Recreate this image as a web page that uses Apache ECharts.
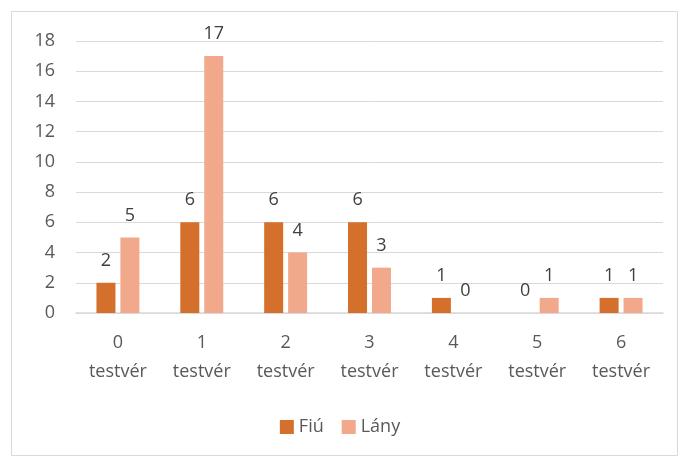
<!DOCTYPE html>
<html>
<head>
<meta charset="utf-8">
<script src="https://cdn.jsdelivr.net/npm/echarts@6/dist/echarts.min.js"></script>
<style>
  html, body { margin: 0; padding: 0; background: #fff; }
  #chart { width: 680px; height: 457px; }
</style>
</head>
<body>
<div id="chart"></div>
<script>
// adatok
const categories = ["0\ntestvér", "1\ntestvér", "2\ntestvér", "3\ntestvér", "4\ntestvér", "5\ntestvér", "6\ntestvér"];
const fiuValues = [2, 6, 6, 6, 1, 0, 1];
const lanyValues = [5, 17, 4, 3, 0, 1, 1];
const yTicks = { min: 0, max: 18, interval: 2 };

const font = "'Open Sans', sans-serif";

const chart = echarts.init(document.getElementById("chart"));

// oszlopcímkék
const labelStyle = {
    show: true,
    position: "top",
    distance: 13,
    color: "#404040",
    fontSize: 18,
    fontFamily: font,
};

chart.setOption({
    animation: false,
    textStyle: { fontFamily: font },
    grid: { left: 76, right: 17, top: 41, bottom: 144 },
    graphic: [{
        type: "rect",
        shape: { x: 11.5, y: 11.5, width: 666, height: 444 },
        style: { fill: "none", stroke: "#d9d9d9", lineWidth: 1 },
        silent: true,
    }],
    legend: {
        bottom: 16,
        left: "center",
        itemWidth: 14,
        itemHeight: 14,
        itemGap: 18,
        icon: "rect",
        textStyle: { color: "#595959", fontSize: 18, fontFamily: font },
    },
    xAxis: {
        type: "category",
        data: categories,
        axisTick: { show: false },
        axisLine: { lineStyle: { color: "#d9d9d9", width: 1.5 } },
        axisLabel: { color: "#595959", fontSize: 18, lineHeight: 29, margin: 15, fontFamily: font },
    },
    yAxis: {
        type: "value",
        min: yTicks.min,
        max: yTicks.max,
        interval: yTicks.interval,
        axisLabel: { color: "#595959", fontSize: 18, margin: 21, fontFamily: font },
        splitLine: { lineStyle: { color: "#d9d9d9", width: 1 } },
    },
    series: [
        {
            name: "Fiú",
            type: "bar",
            data: fiuValues,
            barWidth: 19,
            barGap: "26%",
            itemStyle: { color: "#d4702c" },
            label: labelStyle,
        },
        {
            name: "Lány",
            type: "bar",
            data: lanyValues,
            barWidth: 19,
            itemStyle: { color: "#f2a88a" },
            label: labelStyle,
        },
    ],
});
</script>
</body>
</html>
